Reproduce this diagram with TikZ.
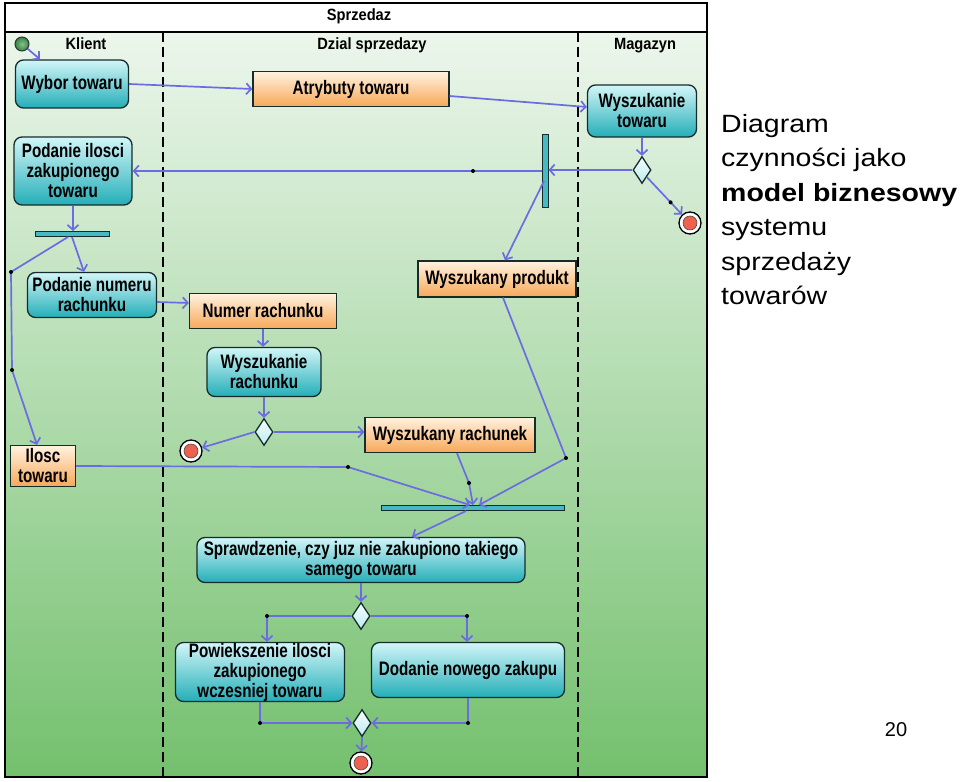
\documentclass[tikz,border=0pt]{standalone}
\usepackage{fontspec}
\setmainfont{Liberation Sans}
\newfontfamily\nodefont[FakeStretch=0.78]{Liberation Sans}
\newfontfamily\hdrfont[FakeStretch=0.9]{Liberation Sans}
\newfontfamily\sidefont[FakeStretch=1.14]{Liberation Sans}
\usetikzlibrary{shapes.geometric,arrows.meta,calc}
\definecolor{bgtop}{RGB}{236,246,236}
\definecolor{bgmid}{RGB}{180,223,174}
\definecolor{bgbot}{RGB}{116,192,110}
\definecolor{acttop}{RGB}{210,246,248}
\definecolor{actbot}{RGB}{36,174,184}
\definecolor{objtop}{RGB}{255,242,224}
\definecolor{objbot}{RGB}{247,168,88}
\definecolor{edgec}{RGB}{108,108,226}
\definecolor{bordc}{RGB}{22,44,44}
\definecolor{finred}{RGB}{236,98,78}
\definecolor{initg}{RGB}{58,148,70}
\definecolor{dectop}{RGB}{244,253,253}
\definecolor{decbot}{RGB}{188,236,238}
\begin{document}
\begin{tikzpicture}[x=1pt,y=-1pt,
  txt/.style={font=\nodefont\bfseries\fontsize{19.5}{20}\selectfont, align=center, text=black},
  hdr/.style={font=\hdrfont\bfseries\fontsize{16.3}{18}\selectfont, anchor=base, inner sep=0pt},
  act/.style={txt, rectangle, rounded corners=8pt, draw=bordc, line width=1.3pt, top color=acttop, bottom color=actbot, inner sep=0pt},
  obj/.style={txt, rectangle, draw=bordc, line width=1.3pt, top color=objtop, bottom color=objbot, inner sep=0pt},
  bar/.style={rectangle, draw=bordc, line width=1pt, fill=actbot!85, inner sep=0pt},
  dec/.style={diamond, draw=bordc, line width=1.3pt, top color=dectop, bottom color=decbot, inner sep=0pt, minimum width=18pt, minimum height=27pt},
  fin/.style={circle, draw=black, line width=1.3pt, fill=white, minimum size=22pt, inner sep=0pt,
    path picture={\filldraw[fill=finred, draw=black!70, line width=0.6pt] (path picture bounding box.center) circle[radius=7pt];}},
  initnode/.style={circle, draw=black!80, line width=1pt, inner color=initg!60, outer color=initg!90!black, minimum size=14pt, inner sep=0pt},
  flow/.style={draw=edgec, line width=1.7pt, -{Straight Barb[length=5pt,width=11pt]}},
  lane/.style={draw=black, line width=1.2pt, dash pattern=on 10pt off 5pt},
  dotmark/.style={fill=black},
  side/.style={font=\sidefont\fontsize{25}{34}\selectfont, anchor=base west, inner sep=0pt}
]
\useasboundingbox (0,0) rectangle (960,781);
\fill[white] (0,0) rectangle (960,781);
% frame and background
\fill[white] (5,3) rectangle (707,32);
\shade[top color=bgtop, middle color=bgmid, bottom color=bgbot] (5,32) rectangle (707,777);
\draw[lane] (163,32) -- (163,777);
\draw[lane] (578,32) -- (578,777);
\draw[line width=1.2pt] (5,32) -- (707,32);
\draw[line width=1.2pt] (5,3) rectangle (707,777);
% headers
\node[hdr] (title) at (359,21) {Sprzedaz};
\node[hdr] (hk) at (86,50) {Klient};
\node[hdr] (hd) at (372,50) {Dzial sprzedazy};
\node[hdr] (hm) at (645,50) {Magazyn};

% nodes
\node[initnode] (init) at (22,44) {};
\node[act, minimum width=113pt, minimum height=48pt] (wybor) at (72,84) {Wybor towaru};
\node[obj, minimum width=196pt, minimum height=35pt] (atr) at (351,89) {Atrybuty towaru};
\node[act, minimum width=109pt, minimum height=52pt] (wyszT) at (642,111) {Wyszukanie\\towaru};
\node[act, minimum width=118pt, minimum height=68pt] (podIl) at (73,171) {Podanie ilosci\\zakupionego\\towaru};
\node[bar, minimum width=6pt, minimum height=73pt] (forkV) at (545,171) {};
\node[dec] (dec1) at (642,170) {};
\node[fin] (fin1) at (690,223) {};
\node[bar, minimum width=74pt, minimum height=5pt] (forkH) at (72,234) {};
\node[act, minimum width=129pt, minimum height=45pt] (podNum) at (92,295) {Podanie numeru\\rachunku};
\node[obj, minimum width=147pt, minimum height=35pt] (numR) at (263,311) {Numer rachunku};
\node[act, minimum width=114pt, minimum height=49pt] (wyszR) at (264,372) {Wyszukanie\\rachunku};
\node[dec] (dec2) at (264,432) {};
\node[fin] (fin2) at (191,451) {};
\node[obj, minimum width=170pt, minimum height=35pt] (wyszRk) at (450,435) {Wyszukany rachunek};
\node[obj, minimum width=158pt, minimum height=36pt] (wyszP) at (497,279) {Wyszukany produkt};
\node[obj, minimum width=65pt, minimum height=41pt] (ilosc) at (43,466) {Ilosc\\towaru};
\node[bar, minimum width=183pt, minimum height=5pt] (join) at (473,508) {};
\node[act, minimum width=328pt, minimum height=45pt] (spraw) at (361,560) {Sprawdzenie, czy juz nie zakupiono takiego\\samego towaru};
\node[dec] (dec3) at (361,616) {};
\node[act, minimum width=169pt, minimum height=59pt] (pow) at (260,672) {Powiekszenie ilosci\\zakupionego\\wczesniej towaru};
\node[act, minimum width=193pt, minimum height=55pt] (dod) at (468,670) {Dodanie nowego zakupu};
\node[dec] (dec4) at (362,723) {};
\node[fin] (fin3) at (361,763) {};

% coordinates of bend points
\coordinate (d1) at ($(dec1.south east)!0.55!(fin1.center)$);
\coordinate (d2) at (473,171);
\coordinate (d3) at (11,272);
\coordinate (d4) at (12,370);
\coordinate (d5) at (348,467);
\coordinate (d6) at (469,483);
\coordinate (d7) at (566,458);
\coordinate (d8) at (267,616);
\coordinate (d9) at (467,616);
\coordinate (d10) at (pow.south |- dec4.west);
\coordinate (d11) at (dod.south |- dec4.east);

% connectors
\draw[flow] (init) -- ($(wybor.north)+(-32,0)$);
\draw[flow] (wybor.east) -- (atr.west);
\draw[flow] ($(atr.east)+(0,7)$) -- ($(wyszT.west)+(0,-4)$);
\draw[flow] (wyszT.south) -- (dec1.north);
\draw[flow] (dec1.west) -- (dec1.west -| forkV.east);
\draw[flow] (dec1.south east) -- (fin1);
\draw[flow] (forkV.west |- podIl.east) -- (podIl.east);
\draw[flow] ($(forkV.center)+(-1,10)$) -- ($(wyszP.north)+(8,0)$);
\draw[flow] (podIl.south) -- (podIl.south |- forkH.north);
\draw[flow] (forkH.south) -- ($(podNum.north)+(-8,0)$);
\draw[flow] ($(forkH.south)+(-4,0)$) -- (d3) -- (d4) -- ($(ilosc.north)+(-6,0)$);
\draw[flow] ($(podNum.east)+(0,7)$) -- ($(numR.west)+(0,-8)$);
\draw[flow] (numR.south) -- (numR.south |- wyszR.north);
\draw[flow] (wyszR.south) -- (dec2.north);
\draw[flow] (dec2.west) -- (fin2);
\draw[flow] (dec2.east) -- (dec2.east -| wyszRk.west);
\draw[flow] (ilosc.east) -- (d5) -- ($(join.north)+(-3,0)$);
\draw[flow] ($(wyszRk.south)+(7,0)$) -- (d6) -- (join.north);
\draw[flow] ($(wyszP.south)+(6,0)$) -- (d7) -- ($(join.north)+(6,0)$);
\draw[flow] ($(join.south)+(-7,0)$) -- ($(spraw.north)+(51,0)$);
\draw[flow] (spraw.south) -- (dec3.north);
\draw[flow] (dec3.west) -- (d8) -- (d8 |- pow.north);
\draw[flow] (dec3.east) -- (d9) -- (d9 |- dod.north);
\draw[flow] (pow.south) -- (d10) -- (dec4.west);
\draw[flow] (dod.south) -- (d11) -- (dec4.east);
\draw[flow] (dec4.south) -- (fin3);

% dots
\foreach \p in {d1,d2,d3,d4,d5,d6,d7,d8,d9,d10,d11}
  \fill[dotmark] (\p) circle[radius=2pt];

% side text
\node[side] (t1) at (721,132) {Diagram};
\node[side] (t2) at (721,166.5) {czynności jako};
\node[side] (t3) at (721,201) {\bfseries model biznesowy};
\node[side] (t4) at (721,235.5) {systemu};
\node[side] (t5) at (721,270) {sprzedaży};
\node[side] (t6) at (721,304.5) {towarów};
\node[font=\fontsize{20}{22}\selectfont, anchor=base, inner sep=0pt] (pnum) at (896,736) {20};
\end{tikzpicture}
\end{document}
